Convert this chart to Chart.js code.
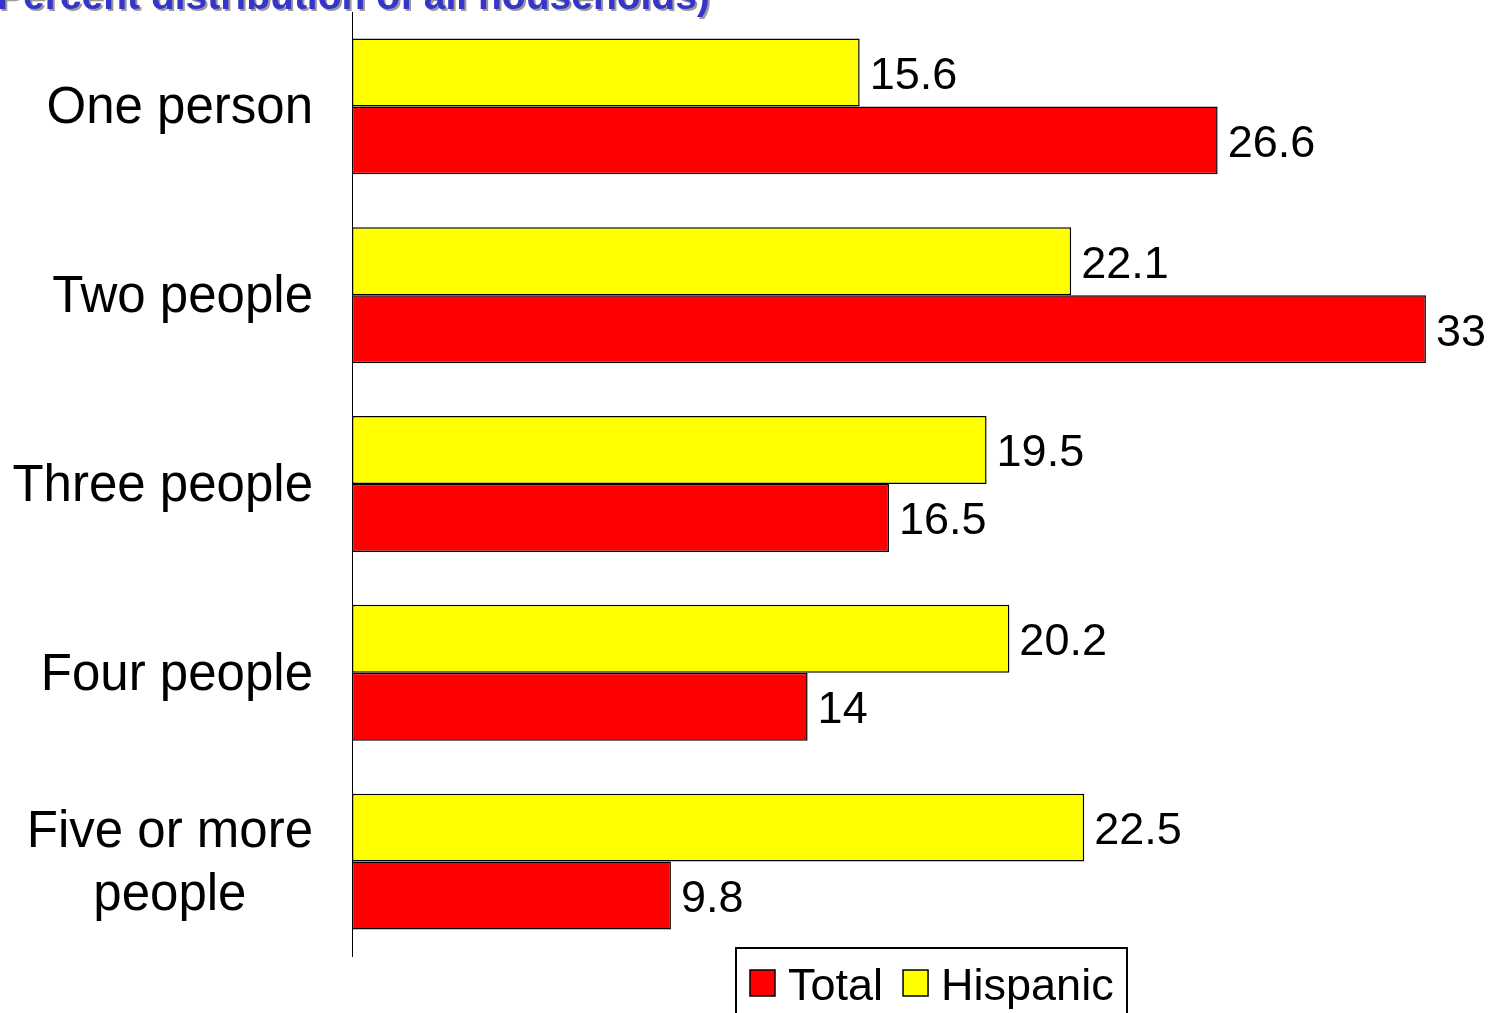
<!DOCTYPE html>
<html>
<head>
<meta charset="utf-8">
<script src="https://cdn.jsdelivr.net/npm/chart.js@4.4.1/dist/chart.umd.min.js"></script>
<style>
  html, body { margin: 0; padding: 0; background: #fff; }
  #wrap { width: 1491px; height: 1013px; position: relative; overflow: hidden; }
</style>
</head>
<body>
<div id="wrap"><canvas id="householdChart" width="1491" height="1013"></canvas></div>
<script>
// household size, percent distribution of all households
const categories = ['One person', 'Two people', 'Three people', 'Four people', ['Five or more', 'people']];
const hispanicValues = [15.6, 22.1, 19.5, 20.2, 22.5];
const totalValues = [26.6, 33, 16.5, 14, 9.8];
const titleText = '(Percent distribution of all households)';

const FONT = '"Liberation Sans", Arial, Helvetica, sans-serif';

// title sits mostly above the visible frame
const titlePlugin = {
    id: 'cutTitle',
    beforeDraw(chart) {
        const ctx = chart.ctx;
        ctx.save();
        ctx.font = 'bold 39px ' + FONT;
        ctx.textAlign = 'left';
        ctx.textBaseline = 'alphabetic';
        ctx.shadowColor = '#9a9a9a';
        ctx.shadowOffsetX = 2;
        ctx.shadowOffsetY = 2;
        ctx.shadowBlur = 0;
        ctx.fillStyle = '#3535cc';
        ctx.fillText(titleText, -16, 9);
        ctx.restore();
    }
};

// category labels: block right-aligned, lines centred in the block
const categoryLabels = {
    id: 'categoryLabels',
    afterDraw(chart) {
        const ctx = chart.ctx;
        const yScale = chart.scales.y;
        const right = 313;
        const lineH = 63;
        ctx.save();
        ctx.font = '51px ' + FONT;
        ctx.fillStyle = '#000';
        ctx.textBaseline = 'middle';
        ctx.textAlign = 'center';
        categories.forEach((label, i) => {
            const lines = Array.isArray(label) ? label : [label];
            const y = yScale.getPixelForValue(i) + 3;
            const blockW = Math.max(...lines.map(l => ctx.measureText(l).width));
            const cx = right - blockW / 2;
            lines.forEach((line, j) => {
                ctx.fillText(line, cx, y + (j - (lines.length - 1) / 2) * lineH);
            });
        });
        ctx.restore();
    }
};

// value labels at the end of each bar
const valueLabels = {
    id: 'valueLabels',
    afterDatasetsDraw(chart) {
        const ctx = chart.ctx;
        ctx.save();
        ctx.font = '45px ' + FONT;
        ctx.fillStyle = '#000';
        ctx.textAlign = 'left';
        ctx.textBaseline = 'middle';
        chart.data.datasets.forEach((ds, di) => {
            chart.getDatasetMeta(di).data.forEach((bar, i) => {
                ctx.fillText(String(ds.data[i]), bar.x + 10, bar.y + 4);
            });
        });
        ctx.restore();
    }
};

// boxed legend at the bottom, Total first
const boxLegend = {
    id: 'boxLegend',
    afterDraw(chart) {
        const ctx = chart.ctx;
        const order = [1, 0];
        ctx.save();
        ctx.fillStyle = '#fff';
        ctx.fillRect(735, 947, 393, 80);
        ctx.strokeStyle = '#000';
        ctx.lineWidth = 2;
        ctx.strokeRect(736, 948, 391, 80);
        ctx.font = '45px ' + FONT;
        ctx.textBaseline = 'alphabetic';
        ctx.textAlign = 'left';
        let x = 750;
        order.forEach(di => {
            const ds = chart.data.datasets[di];
            ctx.fillStyle = ds.backgroundColor;
            ctx.fillRect(x, 970, 25, 26);
            ctx.lineWidth = 1.5;
            ctx.strokeRect(x, 970, 25, 26);
            ctx.fillStyle = '#000';
            ctx.fillText(ds.label, x + 38, 1000);
            x += 38 + ctx.measureText(ds.label).width + 20;
        });
        ctx.restore();
    }
};

new Chart(document.getElementById('householdChart'), {
    type: 'bar',
    data: {
        labels: categories,
        datasets: [{
            label: 'Hispanic',
            data: hispanicValues,
            backgroundColor: '#ffff00',
            borderColor: '#000',
            borderWidth: 1.5,
            borderSkipped: false
        }, {
            label: 'Total',
            data: totalValues,
            backgroundColor: '#ff0000',
            borderColor: '#000',
            borderWidth: 1.5,
            borderSkipped: false
        }]
    },
    options: {
        indexAxis: 'y',
        responsive: false,
        devicePixelRatio: 1,
        animation: false,
        layout: { padding: { top: 12, bottom: 57, left: 0, right: 0 } },
        datasets: {
            bar: { categoryPercentage: 0.72, barPercentage: 1 }
        },
        plugins: {
            legend: { display: false },
            tooltip: { enabled: false },
            title: { display: false }
        },
        scales: {
            x: {
                display: false,
                min: 0,
                max: 35
            },
            y: {
                grid: { display: false },
                border: { display: true, color: '#000', width: 1 },
                ticks: { display: false },
                afterFit(scale) { scale.width = 352; }
            }
        }
    },
    plugins: [titlePlugin, categoryLabels, valueLabels, boxLegend]
});
</script>
</body>
</html>
